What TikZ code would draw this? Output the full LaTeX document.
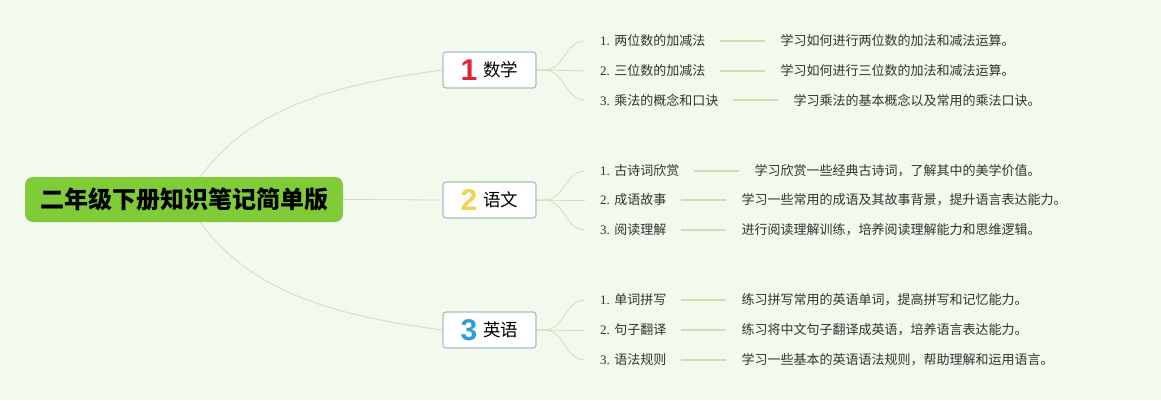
\documentclass[tikz,border=0pt]{standalone}
\usepackage{fontspec}
\setmainfont{Liberation Serif}
\newfontfamily\cjk{Noto Sans CJK SC}
\newfontfamily\numfont{Liberation Sans}
\definecolor{bgc}{HTML}{F3F9EC}
\definecolor{connc}{HTML}{C6E4B2}
\definecolor{rootc}{HTML}{7FCC38}
\definecolor{boxc}{HTML}{A3C2BA}
\definecolor{txtc}{HTML}{333333}
\definecolor{numred}{HTML}{E0253A}
\definecolor{numyel}{HTML}{F3D24E}
\definecolor{numblu}{HTML}{2E9BDA}
\pgfdeclarelayer{bg}
\pgfdeclarelayer{edges}
\pgfsetlayers{bg,edges,main}
\newcommand{\brlabel}[3]{$\vcenter{\hbox{\numfont\bfseries\fontsize{30}{32}\selectfont\color{#1}#2}}$\hspace{6pt}$\vcenter{\hbox{\cjk\fontsize{17.5}{20}\selectfont #3}}$}
\begin{document}
\begin{tikzpicture}[x=1pt,y=-1pt,
  rootbox/.style={fill=rootc, rounded corners=8pt, minimum width=318pt, minimum height=45pt, inner sep=0pt,
    font=\cjk\bfseries\fontsize{24}{28}\selectfont, text=black},
  branchbox/.style={fill=white, draw=boxc, line width=1.1pt, rounded corners=3pt, minimum width=93pt, minimum height=36pt, inner sep=0pt},
  leaf/.style={anchor=west, inner sep=0pt, text=txtc, font=\fontsize{13}{15}\selectfont},
  desc/.style={anchor=west, inner sep=0pt, text=txtc, font=\cjk\fontsize{13}{15}\selectfont},
  conn/.style={draw=connc, line width=0.8pt},
  conn2/.style={draw=connc, line width=1.3pt}]
\begin{pgfonlayer}{bg}
\fill[bgc] (0,0) rectangle (1161,400);
\end{pgfonlayer}
\useasboundingbox (0,0) rectangle (1161,400);

\node[rootbox] (root) at (184,199.5) {二年级下册知识笔记简单版};

\node[branchbox] (b1) at (489.5,70) {\brlabel{numred}{1}{数学}};
\node[branchbox] (b2) at (489.5,200) {\brlabel{numyel}{2}{语文}};
\node[branchbox] (b3) at (489.5,330) {\brlabel{numblu}{3}{英语}};

% leaves group 1
\node[leaf] (a1) at (600,41) {1. {\cjk 两位数的加减法}};
\node[leaf] (a2) at (600,71) {2. {\cjk 三位数的加减法}};
\node[leaf] (a3) at (600,100) {3. {\cjk 乘法的概念和口诀}};
\node[desc] (a1d) at ([xshift=75]a1.east) {学习如何进行两位数的加法和减法运算。};
\node[desc] (a2d) at ([xshift=75]a2.east) {学习如何进行三位数的加法和减法运算。};
\node[desc] (a3d) at ([xshift=75]a3.east) {学习乘法的基本概念以及常用的乘法口诀。};
% group 2
\node[leaf] (c1) at (600,171) {1. {\cjk 古诗词欣赏}};
\node[leaf] (c2) at (600,200) {2. {\cjk 成语故事}};
\node[leaf] (c3) at (600,230) {3. {\cjk 阅读理解}};
\node[desc] (c1d) at ([xshift=75]c1.east) {学习欣赏一些经典古诗词，了解其中的美学价值。};
\node[desc] (c2d) at ([xshift=75]c2.east) {学习一些常用的成语及其故事背景，提升语言表达能力。};
\node[desc] (c3d) at ([xshift=75]c3.east) {进行阅读理解训练，培养阅读理解能力和思维逻辑。};
% group 3
\node[leaf] (e1) at (600,300) {1. {\cjk 单词拼写}};
\node[leaf] (e2) at (600,330) {2. {\cjk 句子翻译}};
\node[leaf] (e3) at (600,360) {3. {\cjk 语法规则}};
\node[desc] (e1d) at ([xshift=75]e1.east) {练习拼写常用的英语单词，提高拼写和记忆能力。};
\node[desc] (e2d) at ([xshift=75]e2.east) {练习将中文句子翻译成英语，培养语言表达能力。};
\node[desc] (e3d) at ([xshift=75]e3.east) {学习一些基本的英语语法规则，帮助理解和运用语言。};

\begin{pgfonlayer}{edges}
% root to branches
\draw[conn] ([xshift=2]root.center) .. controls (235,110) and (330,85) .. (b1.west);
\draw[conn] (root.east) -- (b2.west);
\draw[conn] ([xshift=2]root.center) .. controls (235,290) and (330,315) .. (b3.west);
% branches to leaves
\foreach \b/\l in {b1/a1,b1/a2,b1/a3,b2/c1,b2/c2,b2/c3,b3/e1,b3/e2,b3/e3}{
  \draw[conn] (\b.east) -- ++(8,0) .. controls +(20,0) and ([xshift=-35]\l.west) .. ([xshift=-15]\l.west);
}
% leaf to description
\foreach \l in {a1,a2,a3,c1,c2,c3,e1,e2,e3}{
  \draw[conn2] ([xshift=15]\l.east) -- ([xshift=-15]\l d.west);
}
\end{pgfonlayer}
\end{tikzpicture}
\end{document}
